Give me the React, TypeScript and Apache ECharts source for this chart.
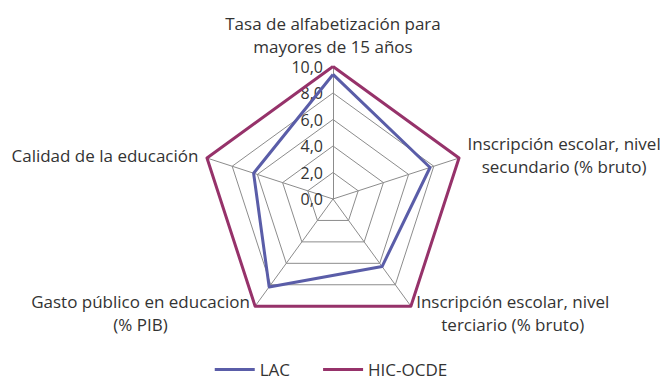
import React, { useEffect, useRef } from "react";
import * as echarts from "echarts";

const indicatorNames = [
  "Tasa de alfabetización para\nmayores de 15 años",
  "Calidad de la educación",
  "Gasto público en educacion\n(% PIB)",
  "Inscripción escolar, nivel\nterciario (% bruto)",
  "Inscripción escolar, nivel\nsecundario (% bruto)",
];
const lacValues = [9.4, 6.3, 8.2, 6.3, 7.7];
const hicValues = [10, 10, 10, 10, 10];
const seriesNames = ["LAC", "HIC-OCDE"];
const FONT = "'Open Sans', sans-serif";

export default function App() {
  const ref = useRef<HTMLDivElement>(null);
  useEffect(() => {
    const chart = echarts.init(ref.current!, null, { renderer: "svg" });
    chart.setOption({
      animation: false,
      legend: {
        top: 361,
        left: "center",
        padding: 0,
        icon: "rect",
        itemWidth: 40,
        itemHeight: 3,
        itemGap: 33,
        textStyle: { fontFamily: FONT, fontSize: 17, color: "#333", lineHeight: 17 },
        data: seriesNames,
      },
      radar: {
        center: [333, 199],
        radius: 132.5,
        startAngle: 90,
        shape: "polygon",
        splitNumber: 5,
        axisNameGap: 9,
        axisName: {
          color: "#333",
          fontFamily: FONT,
          fontSize: 17,
          lineHeight: 23,
          formatter: (name: string) =>
            name
              .split("\n")
              .map((l) => `{c|${l}}`)
              .join("\n"),
          rich: {
            c: {
              align: "center",
              color: "#333",
              fontFamily: FONT,
              fontSize: 17,
              lineHeight: 23,
            },
          },
        },
        splitArea: { show: false },
        splitLine: { lineStyle: { color: "#8c8c8c", width: 1 } },
        axisLine: { lineStyle: { color: "#8c8c8c", width: 1 } },
        axisLabel: { show: false },
        indicator: indicatorNames.map((name, i) => ({
          name,
          min: 0,
          max: 10,
          ...(i === 0
            ? {
                axisLabel: {
                  show: true,
                  color: "#333",
                  fontFamily: FONT,
                  fontSize: 16,
                  margin: 10,
                  formatter: (v: number) => v.toFixed(1).replace(".", ","),
                },
              }
            : {}),
        })),
      },
      series: [
        {
          type: "radar",
          symbol: "none",
          data: [
            {
              name: seriesNames[0],
              value: lacValues,
              lineStyle: { color: "#5A5DA8", width: 3 },
              itemStyle: { color: "#5A5DA8" },
            },
            {
              name: seriesNames[1],
              value: hicValues,
              lineStyle: { color: "#96326A", width: 3 },
              itemStyle: { color: "#96326A" },
            },
          ],
        },
      ],
    });
    return () => chart.dispose();
  }, []);
  return (
    <div
      ref={ref}
      style={{ position: "fixed", left: 0, top: 0, width: 662, height: 383, background: "#fff" }}
    />
  );
}
